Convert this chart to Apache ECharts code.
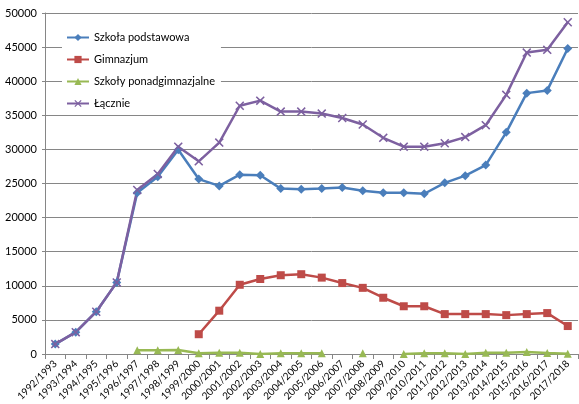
<!DOCTYPE html>
<html>
<head>
<meta charset="utf-8">
<script src="https://cdn.jsdelivr.net/npm/echarts@6/dist/echarts.min.js"></script>
<style>html,body{margin:0;padding:0;background:#fff}#c{width:579px;height:404px}</style>
</head>
<body>
<div id="c"></div>
<script>
var categories = ['1992/1993','1993/1994','1994/1995','1995/1996','1996/1997','1997/1998','1998/1999','1999/2000','2000/2001','2001/2002','2002/2003','2003/2004','2004/2005','2005/2006','2006/2007','2007/2008','2008/2009','2009/2010','2010/2011','2011/2012','2012/2013','2013/2014','2014/2015','2015/2016','2016/2017','2017/2018'];
var seriesNames = ['Szkoła podstawowa','Gimnazjum','Szkoły ponadgimnazjalne','Łącznie'];
var podstawowa = [1450,3200,6200,10500,23650,26000,29950,25650,24650,26300,26200,24250,24150,24250,24400,23950,23650,23650,23500,25100,26150,27700,32500,38250,38650,44800];
var gimnazjum = [null,null,null,null,null,null,null,2900,6350,10150,11000,11550,11700,11200,10400,9700,8250,7000,7000,5850,5850,5850,5700,5850,6000,4100];
var ponadgimnazjalne = [null,null,null,null,550,550,600,100,200,200,0,100,100,100,null,100,null,0,100,100,0,200,200,300,150,50];
var lacznie = [1450,3200,6200,10500,24050,26400,30400,28250,31000,36400,37150,35550,35550,35250,34600,33650,31700,30400,30400,30900,31800,33550,38000,44200,44600,48650];
var yTicks = {min:0, max:50000, interval:5000};

var colors = ['#4A7EBB','#BE4B48','#98B954','#7D60A0'];
var xSym = 'path://M0,1.2L1.2,0L5,3.8L8.8,0L10,1.2L6.2,5L10,8.8L8.8,10L5,6.2L1.2,10L0,8.8L3.8,5Z';
var FONT = 'Lato';

function mk(name, data, color, symbol, size) {
  return {
    name: name, type: 'line', data: data,
    symbol: symbol, symbolSize: size, showAllSymbol: true,
    connectNulls: false,
    lineStyle: {color: color, width: 2.5},
    itemStyle: {color: color},
    emphasis: {disabled: true},
    animation: false
  };
}

var chart = echarts.init(document.getElementById('c'), null, {renderer: 'canvas'});
chart.setOption({
  animation: false,
  textStyle: {fontFamily: FONT},
  grid: {left: 45, right: 1, top: 13, bottom: 50, containLabel: false},
  legend: {
    orient: 'vertical', left: 62, top: 28,
    backgroundColor: '#fff', padding: [4, 6, 6, 4],
    itemWidth: 22, itemHeight: 9, itemGap: 11,
    textStyle: {fontFamily: FONT, fontSize: 11, color: '#000'},
    data: seriesNames.map(function(n){ return {name: n}; })
  },
  xAxis: {
    type: 'category', data: categories, boundaryGap: true,
    axisLine: {lineStyle: {color: '#868686', width: 1}},
    axisTick: {show: true, interval: 0, length: 5, lineStyle: {color: '#868686'}},
    axisLabel: {interval: 0, rotate: 45, fontSize: 10, color: '#000', fontFamily: FONT, margin: 8},
    splitLine: {show: false}
  },
  yAxis: {
    type: 'value', min: yTicks.min, max: yTicks.max, interval: yTicks.interval,
    axisLine: {show: true, lineStyle: {color: '#868686', width: 1}},
    axisTick: {show: true, length: 3, lineStyle: {color: '#868686'}},
    axisLabel: {fontSize: 11, color: '#000', fontFamily: FONT, margin: 8,
      formatter: function(v){ return String(v); }},
    splitLine: {lineStyle: {color: '#868686', width: 1}}
  },
  series: [
    mk(seriesNames[0], podstawowa, colors[0], 'diamond', 9),
    mk(seriesNames[1], gimnazjum, colors[1], 'rect', 8),
    mk(seriesNames[2], ponadgimnazjalne, colors[2], 'triangle', 8),
    mk(seriesNames[3], lacznie, colors[3], xSym, 9)
  ]
});
</script>
</body>
</html>
